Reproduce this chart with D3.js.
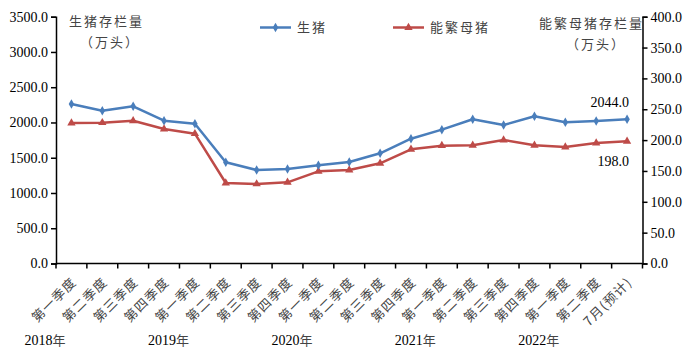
<!DOCTYPE html>
<html><head><meta charset="utf-8">
<script src="https://cdn.jsdelivr.net/npm/d3@7"></script>
<style>
body{margin:0;background:#fff;}
svg{display:block;}
</style></head>
<body><svg id="c" width="693" height="356"></svg>
<script>
const categories = ["第一季度","第二季度","第三季度","第四季度","第一季度","第二季度","第三季度","第四季度","第一季度","第二季度","第三季度","第四季度","第一季度","第二季度","第三季度","第四季度","第一季度","第二季度","7月(预计)"];
const hogs = [2262,2167,2229,2025,1983,1435,1326,1340,1392,1439,1563,1770,1898,2045,1964,2088,2002,2021,2044];
const sows = [227.7,228.2,231.4,218.0,210.4,130.5,128.9,131.6,149.4,151.5,162.4,185.0,191.0,191.5,200.2,191.5,188.8,195.3,198.0];
const years = ["2018年","2019年","2020年","2021年","2022年"];
const yearStart = [0,4,8,12,16];
const leftTicks = [0,500,1000,1500,2000,2500,3000,3500];
const rightTicks = [0,50,100,150,200,250,300,350,400];

const svg = d3.select("#c");
const m = {l:56, r:642.5, t:16.7, b:263.5};
const x = d3.scaleBand().domain(d3.range(categories.length)).range([m.l, m.r]);
const yL = d3.scaleLinear().domain([0,3500]).range([m.b, m.t]);
const yR = d3.scaleLinear().domain([0,400]).range([m.b, m.t]);
const cx = i => x(i) + x.bandwidth()/2;
const numFont = "'Liberation Serif','Times New Roman',serif";
const cjkFont = "'Noto Sans CJK SC','Noto Sans',sans-serif";
const blue = "#4a7ebb", red = "#be4b48";

// left axis
const gl = svg.append("g").attr("transform",`translate(${m.l},0)`)
  .call(d3.axisLeft(yL).tickValues(leftTicks).tickFormat(d3.format(".1f")).tickSize(5).tickPadding(3));
// right axis
const gr = svg.append("g").attr("transform",`translate(${m.r},0)`)
  .call(d3.axisRight(yR).tickValues(rightTicks).tickFormat(d3.format(".1f")).tickSize(5).tickPadding(3));
[gl,gr].forEach(g=>{
  g.select(".domain").attr("stroke","#000").attr("stroke-width",1.5);
  g.selectAll(".tick line").attr("stroke","#000").attr("stroke-width",1.5);
  g.selectAll(".tick text").attr("font-family",numFont).attr("font-size",14).attr("fill","#000");
});
// x axis with ticks at band boundaries
const gx = svg.append("g");
gx.append("line").attr("x1",m.l).attr("x2",m.r).attr("y1",m.b).attr("y2",m.b).attr("stroke","#000").attr("stroke-width",1.5);
gx.selectAll("line.t").data(d3.range(categories.length+1)).enter().append("line")
  .attr("x1",i=>m.l+i*x.step()).attr("x2",i=>m.l+i*x.step())
  .attr("y1",m.b).attr("y2",m.b+5).attr("stroke","#000").attr("stroke-width",1.5);
gx.selectAll("text.c").data(categories).enter().append("text")
  .attr("transform",(d,i)=>`translate(${cx(i)-0.5},${m.b+13}) rotate(-45)`)
  .attr("text-anchor","end").attr("dy","0.7em")
  .attr("font-family",cjkFont).attr("font-size",13).attr("letter-spacing",1.2).attr("fill","#444")
  .text(d=>d);
gx.selectAll("text.y").data(years).enter().append("text")
  .attr("x",(d,i)=>cx(yearStart[i]) - 47)
  .attr("y",345)
  .attr("font-family",numFont).attr("font-size",14).attr("fill","#000")
  .each(function(d){
    const t=d3.select(this);
    t.append("tspan").text(d.replace("年",""));
    t.append("tspan").attr("font-family",cjkFont).attr("font-size",13).attr("fill","#444").text("年");
  });

// lines
const lineL = d3.line().x((d,i)=>cx(i)).y(d=>yL(d));
const lineR = d3.line().x((d,i)=>cx(i)).y(d=>yR(d));
svg.append("path").datum(sows).attr("d",lineR).attr("fill","none").attr("stroke",red).attr("stroke-width",2.5).attr("stroke-linejoin","round");
svg.append("path").datum(hogs).attr("d",lineL).attr("fill","none").attr("stroke",blue).attr("stroke-width",2.5).attr("stroke-linejoin","round");
const tri = d3.symbol().type(d3.symbolTriangle).size(30);
const dia = d3.symbol().type(d3.symbolDiamond).size(26);
svg.selectAll("path.s").data(sows).enter().append("path")
  .attr("transform",(d,i)=>`translate(${cx(i)},${yR(d)})`).attr("d",tri).attr("fill",red);
svg.selectAll("path.h").data(hogs).enter().append("path")
  .attr("transform",(d,i)=>`translate(${cx(i)},${yL(d)})`).attr("d",dia).attr("fill",blue);

// data labels
const last = categories.length-1;
svg.append("text").attr("x",cx(last)+2).attr("y",yL(hogs[last])-12).attr("text-anchor","end")
  .attr("font-family",numFont).attr("font-size",14).text(d3.format(".1f")(hogs[last]));
svg.append("text").attr("x",cx(last)+2).attr("y",yR(sows[last])+25).attr("text-anchor","end")
  .attr("font-family",numFont).attr("font-size",14).text(d3.format(".1f")(sows[last]));

// axis titles
const ct = (tx,ty,s,anchor)=>svg.append("text").attr("x",tx).attr("y",ty).attr("text-anchor",anchor||"start")
  .attr("font-family",cjkFont).attr("font-size",13).attr("letter-spacing",2).attr("fill","#444").text(s);
ct(69,26,"生猪存栏量");
ct(80,47,"（万头）");
ct(539,28,"能繁母猪存栏量");
ct(566,49,"（万头）");

// legend
const leg = [{n:"生猪",c:blue,x:260,sym:dia},{n:"能繁母猪",c:red,x:393,sym:tri}];
leg.forEach(l=>{
  svg.append("line").attr("x1",l.x).attr("x2",l.x+31).attr("y1",27.5).attr("y2",27.5).attr("stroke",l.c).attr("stroke-width",2.5);
  svg.append("path").attr("transform",`translate(${l.x+15.5},27.5)`).attr("d",l.sym).attr("fill",l.c);
  ct(l.x+37,32,l.n);
});
</script></body></html>
